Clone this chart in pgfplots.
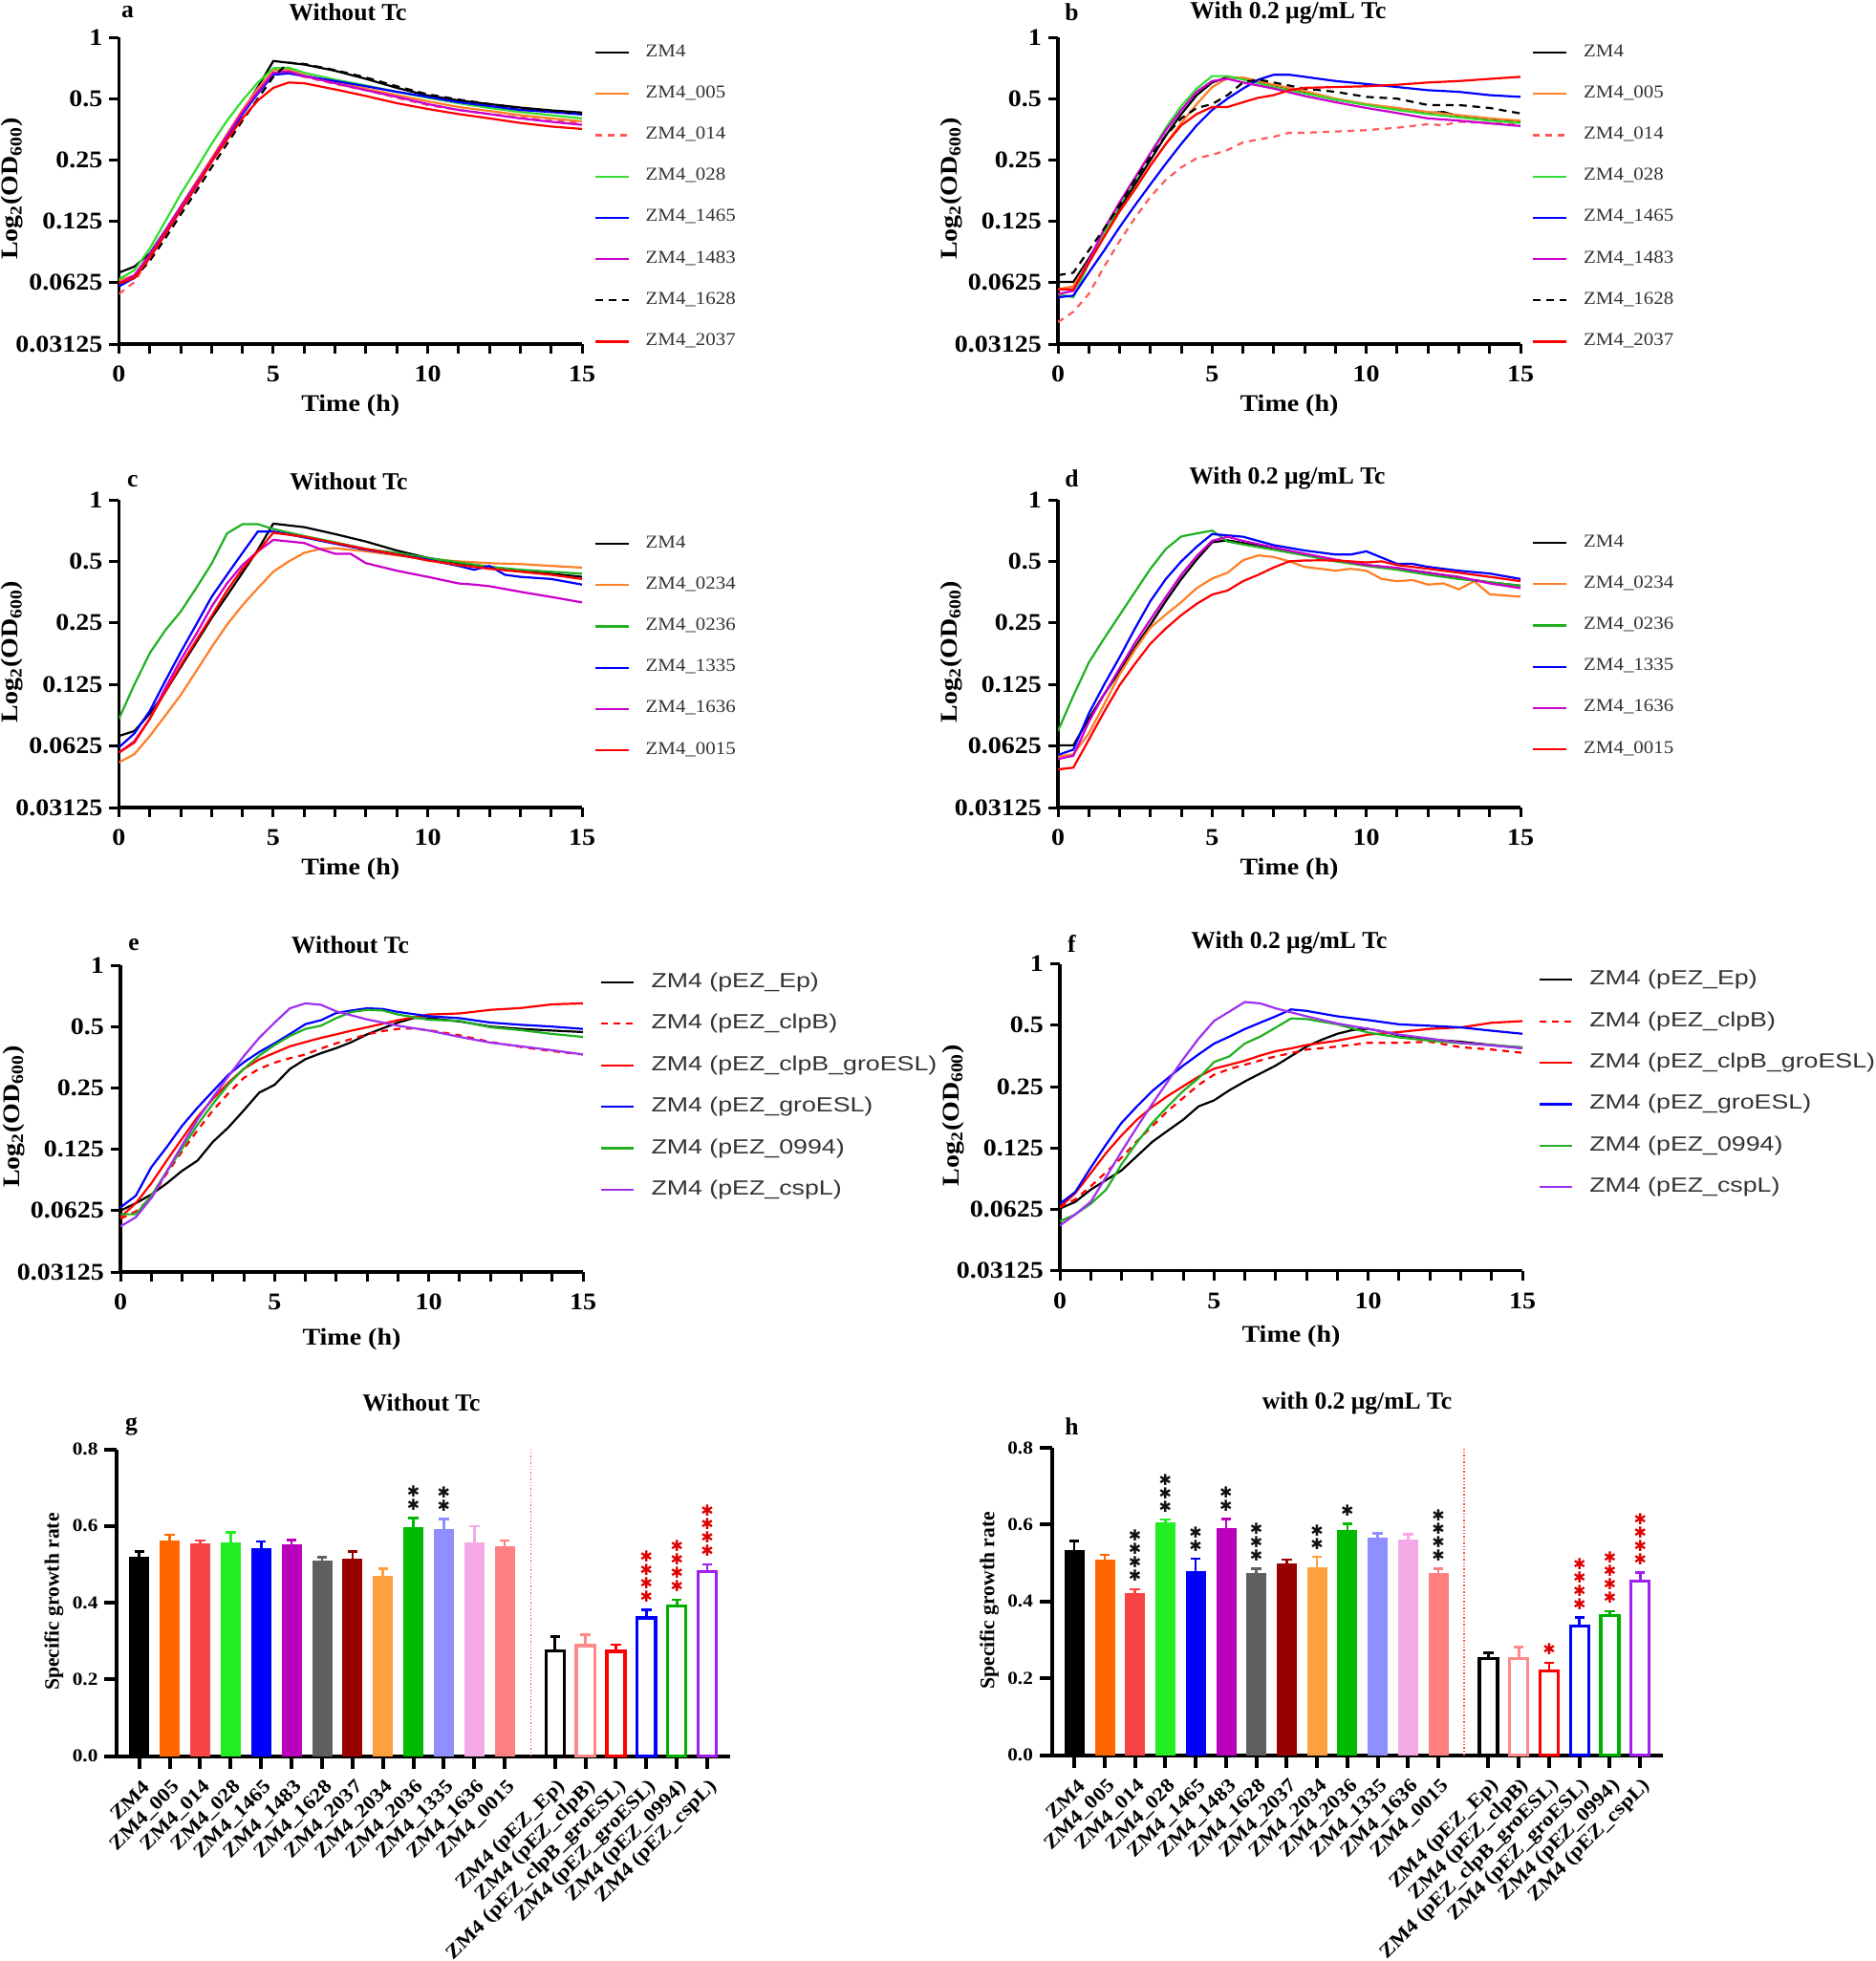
\documentclass[border=0pt]{standalone}
\usepackage{fontspec}
\usepackage{pgfplots}
\pgfplotsset{compat=1.18}
\setmainfont{Liberation Serif}
\newfontfamily\tickfont{Liberation Serif}[FakeStretch=1.12]
\newfontfamily\legA{Liberation Serif}[FakeStretch=1.1]
\newfontfamily\legE{Liberation Sans}[FakeStretch=1.25]
\newfontfamily\dejavu{DejaVu Sans}

\definecolor{legtext}{HTML}{333333}
\definecolor{cOrange}{HTML}{FF7F27}
\definecolor{cRedL}{HTML}{FF5A5A}
\definecolor{cGreenA}{HTML}{33DD33}
\definecolor{cBlue}{HTML}{0000FF}
\definecolor{cMag}{HTML}{CC00CC}
\definecolor{cRed}{HTML}{FF0000}
\definecolor{cGreen}{HTML}{22B022}
\definecolor{cPurple}{HTML}{A030F0}
\definecolor{bA}{HTML}{000000}
\definecolor{bB}{HTML}{FF6600}
\definecolor{bC}{HTML}{F84444}
\definecolor{bD}{HTML}{22EE22}
\definecolor{bE}{HTML}{0000FF}
\definecolor{bF}{HTML}{BB00BB}
\definecolor{bG}{HTML}{606060}
\definecolor{bH}{HTML}{990000}
\definecolor{bI}{HTML}{FFA040}
\definecolor{bJ}{HTML}{00BB00}
\definecolor{bK}{HTML}{8F8FFF}
\definecolor{bL}{HTML}{F5AAE5}
\definecolor{bM}{HTML}{FF8080}
\definecolor{oA}{HTML}{000000}
\definecolor{oB}{HTML}{FF8A8A}
\definecolor{oC}{HTML}{FF0000}
\definecolor{oD}{HTML}{0000FF}
\definecolor{oE}{HTML}{00B000}
\definecolor{oF}{HTML}{A020F0}
\definecolor{starblack}{HTML}{111111}
\definecolor{starred}{HTML}{DD0000}

\newcommand\starfnt{\dejavu\fontsize{8}{9}\selectfont}
\newcommand\starglyph{✱}
\newcommand\stars[4]{%
  \foreach \k in {1,...,#3}{%
    \edef\tmp{\noexpand\node[text=#4,font=\noexpand\starfnt,inner sep=0pt,yshift=\k*7pt] at (axis cs:#1,#2) {\noexpand\starglyph};}%
    \tmp}}
\newcommand\ttl{\bfseries\fontsize{12.8}{14}\selectfont}
\newcommand\axfont{\tickfont\bfseries\fontsize{12.5}{14}\selectfont}

\pgfplotsset{
 growth/.style={
   scale only axis, width=242.25pt, height=160.5pt, anchor=south west,
   ymin=0.03125, ymax=1, xmin=0, xmax=15,
   axis x line*=bottom, axis y line*=left,
   axis line style={line width=1.8pt},
   xtick={0,5,10,15}, xticklabels={0,5,10,15},
   minor xtick={1,2,3,4,6,7,8,9,11,12,13,14},
   ytick={0.03125,0.0625,0.125,0.25,0.5,1},
   yticklabels={0.03125,0.0625,0.125,0.25,0.5,1},
   tick align=outside, major tick length=5pt, minor tick length=5pt,
   tick style={black, line width=1.5pt},
   tick label style={font=\axfont},
   xticklabel style={yshift=-3pt},
   xlabel={Time (h)},
   ylabel={Log\textsubscript{2}(OD\textsubscript{600})},
   every axis x label/.style={at={(axis description cs:0.5,-0.2)}, anchor=center, font=\axfont},
   every axis y label/.style={at={(axis description cs:-0.23,0.506)}, anchor=center, rotate=90, font=\axfont},
   legend cell align=left,
   legend image code/.code={\path[draw=none,fill=none] (0pt,0pt) -- (26.5pt,0pt); \draw[##1] (0pt,0pt) -- (17.5pt,0pt);},
   legend style={draw=none, fill=none, inner sep=0pt, outer sep=0pt, row sep=10.6pt, anchor=north west,
     nodes={inner sep=0pt, text height=7.5pt, text depth=3.5pt, font=\legA\fontsize{9.5}{11}\selectfont, text=legtext}},
   every axis plot/.append style={line width=1.1pt},
 },
 growthE/.style={
   growth,
   legend image code/.code={\path[draw=none,fill=none] (0pt,0pt) -- (26.25pt,0pt); \draw[##1] (0pt,0pt) -- (17pt,0pt);},
   legend style={row sep=10.2pt,
     nodes={inner sep=0pt, text height=8.5pt, text depth=3pt, font=\legE\fontsize{10.7}{12}\selectfont, text=legtext}},
 },
 barchart/.style={
   scale only axis, anchor=south west, clip=false,
   xmin=-0.73, xmax=19.4, ymin=0, ymax=0.8,
   axis x line*=bottom, axis y line*=left,
   axis line style={line width=2pt},
   ytick={0,0.2,0.4,0.6,0.8}, yticklabels={0.0,0.2,0.4,0.6,0.8},
   xtick={0,1,2,3,4,5,6,7,8,9,10,11,12,13.65,14.65,15.65,16.65,17.65,18.65},
   xticklabels={ZM4,ZM4\_005,ZM4\_014,ZM4\_028,ZM4\_1465,ZM4\_1483,ZM4\_1628,ZM4\_2037,ZM4\_2034,ZM4\_2036,ZM4\_1335,ZM4\_1636,ZM4\_0015,ZM4 (pEZ\_Ep),ZM4 (pEZ\_clpB),ZM4 (pEZ\_clpB\_groESL),ZM4 (pEZ\_groESL),ZM4 (pEZ\_0994),ZM4 (pEZ\_cspL)},
   tick align=outside, major tick length=6.5pt,
   tick style={black, line width=2pt},
   yticklabel style={font=\tickfont\bfseries\fontsize{9.5}{11}\selectfont},
   xticklabel style={font=\tickfont\bfseries\fontsize{10.2}{12}\selectfont, rotate=45, anchor=east, inner sep=1pt, xshift=-2pt, yshift=-8.5pt},
   ylabel={Specific growth rate},
   every axis y label/.style={at={(axis description cs:-0.103,0.503)}, anchor=center, rotate=90, font=\bfseries\fontsize{10.8}{12}\selectfont},
 },
 fbar/.style={ybar, bar shift=0pt, bar width=0.63, color=#1, fill=#1, line width=0.4pt,
   error bars/.cd, y dir=plus, y explicit, error bar style={line width=1.3pt, color=#1}, error mark options={rotate=90, mark size=2.6pt, line width=1.3pt, color=#1}},
 obar/.style={ybar, bar shift=0pt, bar width=0.6, draw=#1, fill=white, line width=1.6pt,
   error bars/.cd, y dir=plus, y explicit, error bar style={line width=1.3pt, color=#1}, error mark options={rotate=90, mark size=2.6pt, line width=1.3pt, color=#1}},
}

\begin{document}
\begin{tikzpicture}
\path[use as bounding box] (0pt,0pt) rectangle (981.5pt,-1026pt);

%% ---------------- a ----------------
\begin{axis}[ymode=log, log basis y=2, growth, at={(62.25pt,-180pt)}, legend style={at={(1.026,0.984)}}]
\addplot[black] coordinates {(0,0.070)(0.5,0.075)(1,0.087)(1.5,0.113)(2,0.147)(2.5,0.19)(3,0.25)(3.5,0.325)(4,0.43)(4.5,0.57)(5,0.765)(5.5,0.75)(6,0.735)(7,0.685)(8,0.625)(9,0.565)(10,0.518)(11,0.49)(12,0.47)(13,0.452)(14,0.438)(15,0.427)};
\addlegendentry{ZM4}
\addplot[cOrange] coordinates {(0,0.064)(0.5,0.068)(1,0.085)(1.5,0.112)(2,0.148)(2.5,0.195)(3,0.255)(3.5,0.335)(4,0.44)(4.5,0.56)(5,0.69)(5.5,0.695)(6,0.65)(7,0.6)(8,0.56)(9,0.52)(10,0.485)(11,0.455)(12,0.435)(13,0.415)(14,0.4)(15,0.387)};
\addlegendentry{ZM4\_005}
\addplot[cRedL, dash pattern=on 3.5pt off 3pt] coordinates {(0,0.055)(0.5,0.063)(1,0.083)(1.5,0.11)(2,0.145)(2.5,0.19)(3,0.25)(3.5,0.33)(4,0.43)(4.5,0.55)(5,0.66)(5.5,0.67)(6,0.64)(7,0.59)(8,0.55)(9,0.505)(10,0.465)(11,0.44)(12,0.42)(13,0.405)(14,0.39)(15,0.38)};
\addlegendentry{ZM4\_014}
\addplot[cGreenA] coordinates {(0,0.065)(0.5,0.072)(1,0.092)(1.5,0.125)(2,0.17)(2.5,0.225)(3,0.3)(3.5,0.39)(4,0.49)(4.5,0.6)(5,0.705)(5.5,0.71)(6,0.67)(7,0.62)(8,0.58)(9,0.54)(10,0.505)(11,0.475)(12,0.45)(13,0.43)(14,0.415)(15,0.4)};
\addlegendentry{ZM4\_028}
\addplot[cBlue] coordinates {(0,0.060)(0.5,0.066)(1,0.083)(1.5,0.108)(2,0.142)(2.5,0.185)(3,0.245)(3.5,0.32)(4,0.42)(4.5,0.53)(5,0.655)(5.5,0.665)(6,0.645)(7,0.61)(8,0.575)(9,0.54)(10,0.51)(11,0.48)(12,0.46)(13,0.44)(14,0.43)(15,0.418)};
\addlegendentry{ZM4\_1465}
\addplot[cMag] coordinates {(0,0.062)(0.5,0.068)(1,0.086)(1.5,0.112)(2,0.148)(2.5,0.192)(3,0.25)(3.5,0.33)(4,0.43)(4.5,0.54)(5,0.67)(5.5,0.68)(6,0.645)(7,0.595)(8,0.55)(9,0.51)(10,0.47)(11,0.44)(12,0.42)(13,0.4)(14,0.385)(15,0.372)};
\addlegendentry{ZM4\_1483}
\addplot[black, dash pattern=on 4pt off 3pt] coordinates {(0,0.062)(0.5,0.066)(1,0.08)(1.5,0.103)(2,0.135)(2.5,0.175)(3,0.23)(3.5,0.3)(4,0.39)(4.5,0.5)(5,0.64)(5.5,0.75)(6,0.74)(7,0.69)(8,0.635)(9,0.575)(10,0.525)(11,0.495)(12,0.47)(13,0.45)(14,0.435)(15,0.425)};
\addlegendentry{ZM4\_1628}
\addplot[cRed] coordinates {(0,0.062)(0.5,0.066)(1,0.083)(1.5,0.108)(2,0.142)(2.5,0.185)(3,0.245)(3.5,0.315)(4,0.4)(4.5,0.49)(5,0.565)(5.5,0.6)(6,0.595)(7,0.555)(8,0.515)(9,0.475)(10,0.445)(11,0.42)(12,0.4)(13,0.38)(14,0.365)(15,0.355)};
\addlegendentry{ZM4\_2037}
\end{axis}

%% ---------------- b ----------------
\begin{axis}[ymode=log, log basis y=2, growth, at={(553.5pt,-180pt)}, width=242pt, legend style={at={(1.025,0.984)}}]
\addplot[black] coordinates {(0,0.063)(0.5,0.063)(1,0.082)(1.5,0.11)(2,0.145)(2.5,0.19)(3,0.25)(3.5,0.33)(4,0.42)(4.5,0.52)(5,0.6)(5.5,0.637)(6,0.63)(6.5,0.6)(7,0.575)(8,0.535)(9,0.495)(10,0.468)(11,0.445)(11.5,0.44)(12,0.425)(12.5,0.43)(13,0.41)(14,0.395)(15,0.383)};
\addlegendentry{ZM4}
\addplot[cOrange] coordinates {(0,0.058)(0.5,0.06)(1,0.08)(1.5,0.106)(2,0.14)(2.5,0.18)(3,0.235)(3.5,0.3)(4,0.38)(4.5,0.47)(5,0.57)(5.5,0.63)(6,0.635)(6.5,0.61)(7,0.585)(8,0.545)(9,0.5)(10,0.47)(11,0.45)(12,0.43)(13,0.415)(14,0.4)(15,0.39)};
\addlegendentry{ZM4\_005}
\addplot[cRedL, dash pattern=on 3.5pt off 3pt] coordinates {(0,0.040)(0.5,0.045)(1,0.055)(1.5,0.075)(2,0.1)(2.5,0.13)(3,0.165)(3.5,0.2)(4,0.23)(4.5,0.255)(5,0.265)(5.5,0.28)(6,0.305)(6.5,0.315)(7,0.325)(7.5,0.34)(8,0.34)(9,0.345)(10,0.35)(11,0.36)(12,0.375)(12.5,0.37)(13,0.385)(14,0.38)(15,0.378)};
\addlegendentry{ZM4\_014}
\addplot[cGreenA] coordinates {(0,0.055)(0.5,0.053)(1,0.078)(1.5,0.11)(2,0.15)(2.5,0.2)(3,0.27)(3.5,0.36)(4,0.46)(4.5,0.56)(5,0.645)(5.5,0.645)(6,0.62)(7,0.57)(8,0.53)(9,0.495)(10,0.465)(11,0.44)(12,0.42)(13,0.405)(14,0.39)(15,0.38)};
\addlegendentry{ZM4\_028}
\addplot[cBlue] coordinates {(0,0.053)(0.5,0.054)(1,0.07)(1.5,0.09)(2,0.117)(2.5,0.15)(3,0.19)(3.5,0.24)(4,0.3)(4.5,0.37)(5,0.44)(5.5,0.5)(6,0.56)(6.5,0.62)(7,0.655)(7.5,0.655)(8,0.64)(9,0.61)(10,0.59)(11,0.57)(12,0.55)(12.5,0.545)(13,0.54)(14,0.52)(15,0.51)};
\addlegendentry{ZM4\_1465}
\addplot[cMag] coordinates {(0,0.055)(0.5,0.057)(1,0.08)(1.5,0.115)(2,0.155)(2.5,0.205)(3,0.27)(3.5,0.35)(4,0.44)(4.5,0.54)(5,0.61)(5.5,0.625)(6,0.6)(7,0.56)(8,0.515)(9,0.48)(10,0.45)(11,0.425)(12,0.4)(13,0.39)(14,0.378)(15,0.367)};
\addlegendentry{ZM4\_1483}
\addplot[black, dash pattern=on 4pt off 3pt] coordinates {(0,0.068)(0.5,0.07)(1,0.09)(1.5,0.115)(2,0.15)(2.5,0.2)(3,0.26)(3.5,0.33)(4,0.4)(4.5,0.45)(5,0.47)(5.5,0.52)(6,0.6)(6.5,0.62)(7,0.6)(8,0.56)(9,0.54)(10,0.51)(11,0.5)(12,0.465)(13,0.465)(14,0.45)(15,0.423)};
\addlegendentry{ZM4\_1628}
\addplot[cRed] coordinates {(0,0.058)(0.5,0.058)(1,0.078)(1.5,0.105)(2,0.14)(2.5,0.18)(3,0.235)(3.5,0.3)(4,0.37)(4.5,0.42)(5,0.455)(5.5,0.455)(6,0.48)(6.5,0.505)(7,0.52)(7.5,0.55)(8,0.565)(9,0.57)(10,0.575)(11,0.585)(12,0.6)(13,0.61)(14,0.625)(15,0.64)};
\addlegendentry{ZM4\_2037}
\end{axis}

%% ---------------- c ----------------
\begin{axis}[ymode=log, log basis y=2, growth, at={(62.25pt,-422.5pt)}, height=161pt, legend style={at={(1.026,0.891)}}]
\addplot[black] coordinates {(0,0.070)(0.5,0.074)(1,0.09)(1.5,0.115)(2,0.152)(2.5,0.2)(3,0.264)(3.5,0.34)(4,0.44)(4.5,0.57)(5,0.765)(6,0.735)(7,0.68)(8,0.625)(9,0.565)(10,0.52)(11,0.49)(12,0.47)(13,0.45)(14,0.435)(15,0.42)};
\addlegendentry{ZM4}
\addplot[cOrange] coordinates {(0,0.052)(0.5,0.057)(1,0.07)(1.5,0.088)(2,0.111)(2.5,0.145)(3,0.19)(3.5,0.245)(4,0.305)(4.5,0.37)(5,0.445)(5.5,0.5)(6,0.55)(6.5,0.575)(7,0.58)(8,0.56)(9,0.535)(10,0.515)(11,0.5)(12,0.49)(13,0.485)(14,0.475)(15,0.466)};
\addlegendentry{ZM4\_0234}
\addplot[cGreen] coordinates {(0,0.085)(0.5,0.125)(1,0.178)(1.5,0.23)(2,0.284)(2.5,0.37)(3,0.487)(3.5,0.685)(4,0.76)(4.5,0.76)(5,0.72)(6,0.665)(7,0.62)(8,0.575)(9,0.55)(10,0.52)(11,0.495)(12,0.47)(13,0.455)(14,0.445)(15,0.435)};
\addlegendentry{ZM4\_0236}
\addplot[cBlue] coordinates {(0,0.0616)(0.5,0.072)(1,0.093)(1.5,0.13)(2,0.18)(2.5,0.245)(3,0.335)(3.5,0.43)(4,0.55)(4.5,0.70)(5,0.70)(6,0.655)(7,0.61)(8,0.57)(9,0.54)(10,0.51)(11,0.475)(11.5,0.455)(12,0.475)(12.5,0.43)(13,0.42)(14,0.41)(15,0.385)};
\addlegendentry{ZM4\_1335}
\addplot[cMag] coordinates {(0,0.058)(0.5,0.066)(1,0.085)(1.5,0.12)(2,0.165)(2.5,0.22)(3,0.3)(3.5,0.39)(4,0.48)(4.5,0.56)(5,0.637)(6,0.615)(6.5,0.575)(7,0.545)(7.5,0.545)(8,0.49)(9,0.45)(10,0.42)(11,0.39)(11.5,0.385)(12,0.378)(13,0.355)(14,0.335)(15,0.315)};
\addlegendentry{ZM4\_1636}
\addplot[cRed] coordinates {(0,0.058)(0.5,0.065)(1,0.085)(1.5,0.115)(2,0.155)(2.5,0.205)(3,0.27)(3.5,0.36)(4,0.46)(4.5,0.56)(5,0.69)(6,0.66)(7,0.615)(8,0.575)(9,0.54)(10,0.505)(11,0.48)(12,0.46)(13,0.445)(14,0.43)(15,0.41)};
\addlegendentry{ZM4\_0015}
\end{axis}

%% ---------------- d ----------------
\begin{axis}[ymode=log, log basis y=2, growth, at={(553.5pt,-422.5pt)}, width=242pt, height=161pt, legend style={at={(1.025,0.894)}}]
\addplot[black] coordinates {(0,0.063)(0.5,0.063)(1,0.085)(1.5,0.112)(2,0.145)(2.5,0.19)(3,0.245)(3.5,0.32)(4,0.41)(4.5,0.51)(5,0.62)(5.5,0.634)(6,0.615)(7,0.58)(8,0.54)(9,0.506)(10,0.48)(11,0.46)(12,0.44)(13,0.415)(14,0.395)(15,0.38)};
\addlegendentry{ZM4}
\addplot[cOrange] coordinates {(0,0.0555)(0.5,0.057)(1,0.072)(1.5,0.1)(2,0.14)(2.5,0.185)(3,0.237)(3.5,0.275)(4,0.316)(4.5,0.37)(5,0.412)(5.5,0.44)(6,0.506)(6.5,0.535)(7,0.525)(7.5,0.5)(8,0.47)(8.5,0.46)(9,0.45)(9.5,0.46)(10,0.45)(10.5,0.41)(11,0.4)(11.5,0.405)(12,0.385)(12.5,0.39)(13,0.365)(13.5,0.40)(14,0.345)(15,0.336)};
\addlegendentry{ZM4\_0234}
\addplot[cGreen] coordinates {(0,0.074)(0.5,0.11)(1,0.16)(1.5,0.21)(2,0.273)(2.5,0.355)(3,0.46)(3.5,0.575)(4,0.662)(4.5,0.685)(5,0.707)(5.5,0.625)(6,0.605)(7,0.57)(8,0.535)(9,0.5)(10,0.475)(11,0.455)(12,0.43)(13,0.41)(14,0.395)(15,0.38)};
\addlegendentry{ZM4\_0236}
\addplot[cBlue] coordinates {(0,0.0565)(0.5,0.06)(1,0.09)(1.5,0.125)(2,0.17)(2.5,0.235)(3,0.32)(3.5,0.41)(4,0.5)(4.5,0.59)(5,0.68)(6,0.66)(7,0.6)(8,0.565)(9,0.54)(9.5,0.54)(10,0.56)(11,0.486)(11.5,0.486)(12,0.47)(13,0.45)(14,0.436)(15,0.41)};
\addlegendentry{ZM4\_1335}
\addplot[cMag] coordinates {(0,0.054)(0.5,0.056)(1,0.082)(1.5,0.112)(2,0.15)(2.5,0.2)(3,0.26)(3.5,0.335)(4,0.43)(4.5,0.53)(5,0.63)(5.5,0.66)(6,0.63)(7,0.585)(8,0.545)(9,0.51)(10,0.48)(11,0.465)(12,0.44)(13,0.42)(14,0.39)(15,0.37)};
\addlegendentry{ZM4\_1636}
\addplot[cRed] coordinates {(0,0.048)(0.5,0.049)(1,0.067)(1.5,0.092)(2,0.124)(2.5,0.158)(3,0.198)(3.5,0.235)(4,0.273)(4.5,0.31)(5,0.344)(5.5,0.36)(6,0.40)(6.5,0.43)(7,0.467)(7.5,0.5)(8,0.505)(8.5,0.506)(9,0.505)(9.5,0.5)(10,0.494)(10.5,0.5)(11,0.48)(12,0.46)(13,0.44)(14,0.42)(15,0.40)};
\addlegendentry{ZM4\_0015}
\end{axis}

%% ---------------- e ----------------
\begin{axis}[ymode=log, log basis y=2, growthE, at={(63pt,-665.5pt)}, width=242pt, legend style={at={(1.037,0.98)}}, every axis x label/.style={at={(axis description cs:0.5,-0.218)}, anchor=center, font=\axfont}]
\addplot[black] coordinates {(0,0.0625)(0.5,0.068)(1,0.075)(1.5,0.085)(2,0.098)(2.5,0.11)(3,0.136)(3.5,0.16)(4,0.194)(4.5,0.237)(5,0.259)(5.5,0.31)(6,0.346)(6.5,0.37)(7,0.392)(7.5,0.42)(8,0.458)(8.5,0.49)(9,0.523)(9.5,0.55)(10,0.55)(11,0.53)(12,0.5)(13,0.487)(14,0.478)(15,0.47)};
\addlegendentry{ZM4 (pEZ\_Ep)}
\addplot[cRed, dash pattern=on 3.5pt off 3pt] coordinates {(0,0.057)(0.5,0.062)(1,0.072)(1.5,0.095)(2,0.122)(2.5,0.155)(3,0.194)(3.5,0.235)(4,0.28)(4.5,0.31)(5,0.333)(5.5,0.35)(6,0.365)(6.5,0.39)(7,0.414)(7.5,0.435)(8,0.458)(8.5,0.475)(9,0.487)(9.5,0.49)(10,0.48)(11,0.453)(12,0.42)(13,0.397)(14,0.379)(15,0.365)};
\addlegendentry{ZM4 (pEZ\_clpB)}
\addplot[cRed] coordinates {(0,0.058)(0.5,0.068)(1,0.085)(1.5,0.11)(2,0.141)(2.5,0.18)(3,0.221)(3.5,0.265)(4,0.31)(4.5,0.345)(5,0.372)(5.5,0.4)(6,0.42)(6.5,0.44)(7,0.458)(7.5,0.478)(8,0.496)(9,0.537)(10,0.573)(11,0.58)(12,0.604)(13,0.617)(14,0.643)(15,0.65)};
\addlegendentry{ZM4 (pEZ\_clpB\_groESL)}
\addplot[cBlue] coordinates {(0,0.0648)(0.5,0.074)(1,0.102)(1.5,0.128)(2,0.163)(2.5,0.2)(3,0.241)(3.5,0.29)(4,0.334)(4.5,0.375)(5,0.414)(5.5,0.46)(6,0.514)(6.5,0.537)(7,0.583)(7.5,0.6)(8,0.615)(8.5,0.61)(9,0.59)(10,0.562)(11,0.55)(12,0.523)(13,0.51)(14,0.5)(15,0.487)};
\addlegendentry{ZM4 (pEZ\_groESL)}
\addplot[cGreen] coordinates {(0,0.06)(0.5,0.06)(1,0.074)(1.5,0.097)(2,0.126)(2.5,0.165)(3,0.209)(3.5,0.26)(4,0.31)(4.5,0.36)(5,0.406)(5.5,0.45)(6,0.487)(6.5,0.505)(7,0.55)(7.5,0.59)(8,0.604)(8.5,0.6)(9,0.573)(10,0.54)(11,0.533)(12,0.496)(13,0.48)(14,0.46)(15,0.445)};
\addlegendentry{ZM4 (pEZ\_0994)}
\addplot[cPurple] coordinates {(0,0.0523)(0.5,0.058)(1,0.072)(1.5,0.097)(2,0.131)(2.5,0.175)(3,0.225)(3.5,0.285)(4,0.358)(4.5,0.44)(5,0.523)(5.5,0.615)(6,0.65)(6.5,0.64)(7,0.594)(8,0.542)(9,0.505)(10,0.478)(11,0.445)(12,0.417)(13,0.4)(14,0.383)(15,0.365)};
\addlegendentry{ZM4 (pEZ\_cspL)}
\end{axis}

%% ---------------- f ----------------
\begin{axis}[ymode=log, log basis y=2, growthE, at={(554.5pt,-664.8pt)}, width=242pt, legend style={at={(1.0345,0.984)}}, every axis x label/.style={at={(axis description cs:0.5,-0.213)}, anchor=center, font=\axfont}]
\addplot[black] coordinates {(0,0.063)(0.5,0.068)(1,0.078)(1.5,0.087)(2,0.097)(2.5,0.114)(3,0.134)(3.5,0.152)(4,0.172)(4.5,0.2)(5,0.214)(5.5,0.24)(6,0.265)(6.5,0.29)(7,0.317)(7.5,0.353)(8,0.393)(8.5,0.425)(9,0.454)(9.5,0.474)(10,0.48)(10.5,0.465)(11,0.446)(12,0.426)(13,0.415)(14,0.4)(15,0.386)};
\addlegendentry{ZM4 (pEZ\_Ep)}
\addplot[cRed, dash pattern=on 3.5pt off 3pt] coordinates {(0,0.064)(0.5,0.07)(1,0.081)(1.5,0.095)(2,0.112)(2.5,0.135)(3,0.16)(3.5,0.19)(4,0.22)(4.5,0.255)(5,0.286)(5.5,0.305)(6,0.32)(6.5,0.336)(7,0.352)(7.5,0.365)(8,0.38)(9,0.393)(10,0.41)(11,0.41)(12,0.415)(13,0.39)(14,0.38)(15,0.366)};
\addlegendentry{ZM4 (pEZ\_clpB)}
\addplot[cRed] coordinates {(0,0.064)(0.5,0.075)(1,0.094)(1.5,0.118)(2,0.144)(2.5,0.172)(3,0.199)(3.5,0.225)(4,0.251)(4.5,0.28)(5,0.306)(5.5,0.32)(6,0.335)(6.5,0.355)(7,0.373)(7.5,0.385)(8,0.40)(9,0.42)(10,0.45)(11,0.463)(12,0.48)(13,0.488)(14,0.514)(15,0.524)};
\addlegendentry{ZM4 (pEZ\_clpB\_groESL)}
\addplot[cBlue] coordinates {(0,0.0665)(0.5,0.076)(1,0.1)(1.5,0.13)(2,0.166)(2.5,0.2)(3,0.238)(3.5,0.275)(4,0.317)(4.5,0.36)(5,0.406)(5.5,0.44)(6,0.479)(6.5,0.515)(7,0.553)(7.5,0.598)(8,0.588)(9,0.553)(10,0.53)(11,0.505)(12,0.497)(13,0.488)(14,0.47)(15,0.454)};
\addlegendentry{ZM4 (pEZ\_groESL)}
\addplot[cGreen] coordinates {(0,0.0545)(0.5,0.059)(1,0.0665)(1.5,0.078)(2,0.104)(2.5,0.133)(3,0.166)(3.5,0.2)(4,0.238)(4.5,0.275)(5,0.33)(5.5,0.352)(6,0.407)(6.5,0.44)(7,0.487)(7.5,0.54)(8,0.536)(9,0.505)(10,0.46)(11,0.436)(12,0.42)(13,0.408)(14,0.4)(15,0.39)};
\addlegendentry{ZM4 (pEZ\_0994)}
\addplot[cPurple] coordinates {(0,0.052)(0.5,0.059)(1,0.068)(1.5,0.09)(2,0.12)(2.5,0.158)(3,0.206)(3.5,0.265)(4,0.341)(4.5,0.43)(5,0.525)(5.5,0.584)(6,0.65)(6.5,0.64)(7,0.605)(8,0.553)(9,0.51)(10,0.48)(11,0.45)(12,0.43)(13,0.41)(14,0.398)(15,0.386)};
\addlegendentry{ZM4 (pEZ\_cspL)}
\end{axis}

%% ---------------- g ----------------
\begin{axis}[barchart, at={(61.25pt,-918.75pt)}, width=320.75pt, height=160.5pt]
\addplot[fbar=bA] coordinates {(0,0.518) +- (0,0.015)};
\addplot[fbar=bB] coordinates {(1,0.560) +- (0,0.017)};
\addplot[fbar=bC] coordinates {(2,0.554) +- (0,0.008)};
\addplot[fbar=bD] coordinates {(3,0.557) +- (0,0.026)};
\addplot[fbar=bE] coordinates {(4,0.540) +- (0,0.020)};
\addplot[fbar=bF] coordinates {(5,0.550) +- (0,0.014)};
\addplot[fbar=bG] coordinates {(6,0.508) +- (0,0.011)};
\addplot[fbar=bH] coordinates {(7,0.513) +- (0,0.020)};
\addplot[fbar=bI] coordinates {(8,0.468) +- (0,0.020)};
\addplot[fbar=bJ] coordinates {(9,0.596) +- (0,0.024)};
\addplot[fbar=bK] coordinates {(10,0.591) +- (0,0.027)};
\addplot[fbar=bL] coordinates {(11,0.557) +- (0,0.042)};
\addplot[fbar=bM] coordinates {(12,0.547) +- (0,0.015)};
\addplot[obar=oA] coordinates {(13.65,0.275) +- (0,0.036)};
\addplot[obar=oB] coordinates {(14.65,0.288) +- (0,0.029)};
\addplot[obar=oC] coordinates {(15.65,0.273) +- (0,0.017)};
\addplot[obar=oD] coordinates {(16.65,0.360) +- (0,0.021)};
\addplot[obar=oE] coordinates {(17.65,0.391) +- (0,0.017)};
\addplot[obar=oF] coordinates {(18.65,0.482) +- (0,0.018)};
\draw[red!70, densely dotted, line width=0.7pt] (axis cs:12.85,0) -- (axis cs:12.85,0.8);
\stars{9}{0.620}{2}{starblack}
\stars{10}{0.618}{2}{starblack}
\stars{16.65}{0.381}{4}{starred}
\stars{17.65}{0.408}{4}{starred}
\stars{18.65}{0.500}{4}{starred}
\end{axis}

%% ---------------- h ----------------
\begin{axis}[barchart, at={(550.5pt,-918.25pt)}, width=319.5pt, height=160.75pt]
\addplot[fbar=bA] coordinates {(0,0.533) +- (0,0.025)};
\addplot[fbar=bB] coordinates {(1,0.507) +- (0,0.014)};
\addplot[fbar=bC] coordinates {(2,0.420) +- (0,0.012)};
\addplot[fbar=bD] coordinates {(3,0.604) +- (0,0.009)};
\addplot[fbar=bE] coordinates {(4,0.478) +- (0,0.033)};
\addplot[fbar=bF] coordinates {(5,0.589) +- (0,0.025)};
\addplot[fbar=bG] coordinates {(6,0.472) +- (0,0.013)};
\addplot[fbar=bH] coordinates {(7,0.499) +- (0,0.010)};
\addplot[fbar=bI] coordinates {(8,0.488) +- (0,0.028)};
\addplot[fbar=bJ] coordinates {(9,0.585) +- (0,0.018)};
\addplot[fbar=bK] coordinates {(10,0.565) +- (0,0.012)};
\addplot[fbar=bL] coordinates {(11,0.560) +- (0,0.015)};
\addplot[fbar=bM] coordinates {(12,0.472) +- (0,0.013)};
\addplot[obar=oA] coordinates {(13.65,0.252) +- (0,0.015)};
\addplot[obar=oB] coordinates {(14.65,0.252) +- (0,0.029)};
\addplot[obar=oC] coordinates {(15.65,0.220) +- (0,0.020)};
\addplot[obar=oD] coordinates {(16.65,0.336) +- (0,0.023)};
\addplot[obar=oE] coordinates {(17.65,0.364) +- (0,0.011)};
\addplot[obar=oF] coordinates {(18.65,0.453) +- (0,0.022)};
\draw[red!70, densely dotted, line width=0.7pt] (axis cs:12.85,0) -- (axis cs:12.85,0.8);
\stars{2}{0.432}{4}{starblack}
\stars{3}{0.613}{3}{starblack}
\stars{4}{0.511}{2}{starblack}
\stars{5}{0.614}{2}{starblack}
\stars{6}{0.485}{3}{starblack}
\stars{8}{0.516}{2}{starblack}
\stars{9}{0.603}{1}{starblack}
\stars{12}{0.485}{4}{starblack}
\stars{15.65}{0.240}{1}{starred}
\stars{16.65}{0.359}{4}{starred}
\stars{17.65}{0.375}{4}{starred}
\stars{18.65}{0.475}{4}{starred}
\end{axis}

%% titles and panel letters
\node[font=\ttl] at (66.75pt,-6.5pt) {a};
\node[font=\ttl] at (182pt,-6.5pt) {Without Tc};
\node[font=\ttl] at (560.75pt,-6.5pt) {b};
\node[font=\ttl, text height=9pt, text depth=2.5pt] at (674pt,-6.5pt) {With 0.2 μg/mL Tc};
\node[font=\ttl] at (69.4pt,-252pt) {c};
\node[font=\ttl] at (182.5pt,-252pt) {Without Tc};
\node[font=\ttl] at (560.75pt,-250.5pt) {d};
\node[font=\ttl, text height=9pt, text depth=2.5pt] at (673.4pt,-250pt) {With 0.2 μg/mL Tc};
\node[font=\ttl] at (70pt,-494.5pt) {e};
\node[font=\ttl] at (183.2pt,-494.5pt) {Without Tc};
\node[font=\ttl] at (560.75pt,-493.5pt) {f};
\node[font=\ttl, text height=9pt, text depth=2.5pt] at (674.5pt,-492.75pt) {With 0.2 μg/mL Tc};
\node[font=\ttl] at (68.7pt,-746.5pt) {g};
\node[font=\ttl] at (220.5pt,-734pt) {Without Tc};
\node[font=\ttl] at (560.75pt,-746.5pt) {h};
\node[font=\ttl, text height=9pt, text depth=2.5pt] at (710pt,-734pt) {with 0.2 μg/mL Tc};
\end{tikzpicture}
\end{document}
